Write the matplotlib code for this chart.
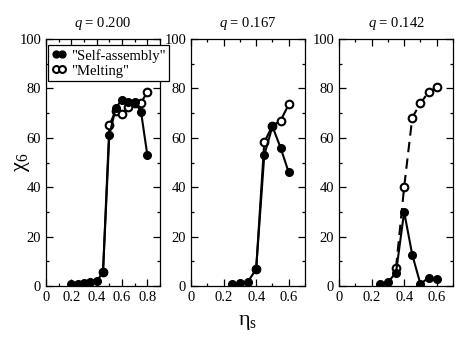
import matplotlib
matplotlib.use("Agg")
import matplotlib.pyplot as plt
from matplotlib.ticker import MultipleLocator

plt.rcParams['font.family'] = ['Liberation Serif', 'DejaVu Serif']
plt.rcParams['mathtext.fontset'] = 'custom'
plt.rcParams['mathtext.rm'] = 'Liberation Serif'
plt.rcParams['mathtext.it'] = 'Liberation Serif:italic'

titles = ["0.200", "0.167", "0.142"]

sa_x1 = [0.2, 0.25, 0.3, 0.35, 0.4, 0.45, 0.5, 0.55, 0.6, 0.65, 0.7, 0.75, 0.8]
sa_y1 = [1.0, 1.0, 1.2, 1.5, 2.0, 5.5, 61, 72, 75.5, 74.5, 74.5, 70.6, 53]
me_x1 = [0.45, 0.5, 0.55, 0.6, 0.65, 0.7, 0.75, 0.8]
me_y1 = [5.5, 65, 71, 69.8, 72.3, 74, 74.2, 78.5]

sa_x2 = [0.25, 0.3, 0.35, 0.4, 0.45, 0.5, 0.55, 0.6]
sa_y2 = [1.0, 1.2, 1.8, 6.8, 53, 64.6, 56, 46]
me_x2 = [0.4, 0.45, 0.5, 0.55, 0.6]
me_y2 = [6.8, 58.2, 64.9, 66.9, 73.5]

sa_x3 = [0.25, 0.3, 0.35, 0.4, 0.45, 0.5, 0.55, 0.6]
sa_y3 = [1.0, 1.5, 5.4, 30, 12.6, 0.8, 3.4, 2.7]
me_x3 = [0.35, 0.4, 0.45, 0.5, 0.55, 0.6]
me_y3 = [7.2, 40, 68.2, 74, 78.5, 80.4]

xmax = [0.9, 0.7, 0.7]
xmajor = [0.2, 0.2, 0.2]
melt_style = ['-', '-', (0, (5, 3))]

W, H = 458, 354
fig = plt.figure(figsize=(W / 100, H / 100), dpi=100)
lefts = [46, 191, 339]
axw = 114
bottom, top = 286, 39

panels = [(sa_x1, sa_y1, me_x1, me_y1), (sa_x2, sa_y2, me_x2, me_y2), (sa_x3, sa_y3, me_x3, me_y3)]

axes = []
for i, (sx, sy, mx, my) in enumerate(panels):
    ax = fig.add_axes([lefts[i] / W, 1 - bottom / H, axw / W, (bottom - top) / H])
    axes.append(ax)
    l2, = ax.plot(mx, my, linestyle=melt_style[i], color='black', lw=1.5, marker='o', ms=5.5,
                  mfc='white', mec='black', mew=1.5, label='"Melting"', zorder=2)
    l1, = ax.plot(sx, sy, '-', color='black', lw=1.5, marker='o', ms=5.5,
                  mfc='black', mec='black', label='"Self-assembly"', zorder=3)
    ax.set_xlim(0, xmax[i])
    ax.set_ylim(0, 100)
    ax.xaxis.set_major_locator(MultipleLocator(xmajor[i]))
    ax.xaxis.set_minor_locator(MultipleLocator(0.1))
    ax.yaxis.set_major_locator(MultipleLocator(20))
    ax.yaxis.set_minor_locator(MultipleLocator(10))
    ax.tick_params(which='both', direction='in', top=True, right=True, labelsize=10.5)
    ax.tick_params(which='major', length=5, width=0.9)
    ax.tick_params(which='minor', length=2.5, width=0.9)
    ax.set_xticklabels([f"{t:g}" for t in ax.get_xticks()])
    for s in ax.spines.values():
        s.set_linewidth(0.9)
    ax.set_title(r"$q$ = " + titles[i], fontsize=10.5, pad=9)
    if i == 0:
        leg = ax.legend(handles=[l1, l2], loc='upper left', bbox_to_anchor=(0.02, 0.975),
                        numpoints=2, fontsize=10.5, frameon=True, fancybox=False,
                        edgecolor='black', framealpha=1, borderpad=0.25, handlelength=1.0,
                        handletextpad=0.3, labelspacing=0.12, borderaxespad=0,
                        markerscale=0.9)
        leg.get_frame().set_linewidth(0.9)
        leg.set_zorder(10)

fig.text(22 / W, 1 - 162 / H, "χ$_6$", fontsize=16, ha='center', va='center', rotation=90)
fig.text(248 / W, 1 - 322 / H, "η$_\\mathrm{s}$", fontsize=16, ha='center', va='center')

fig.savefig("out.png", dpi=100)
